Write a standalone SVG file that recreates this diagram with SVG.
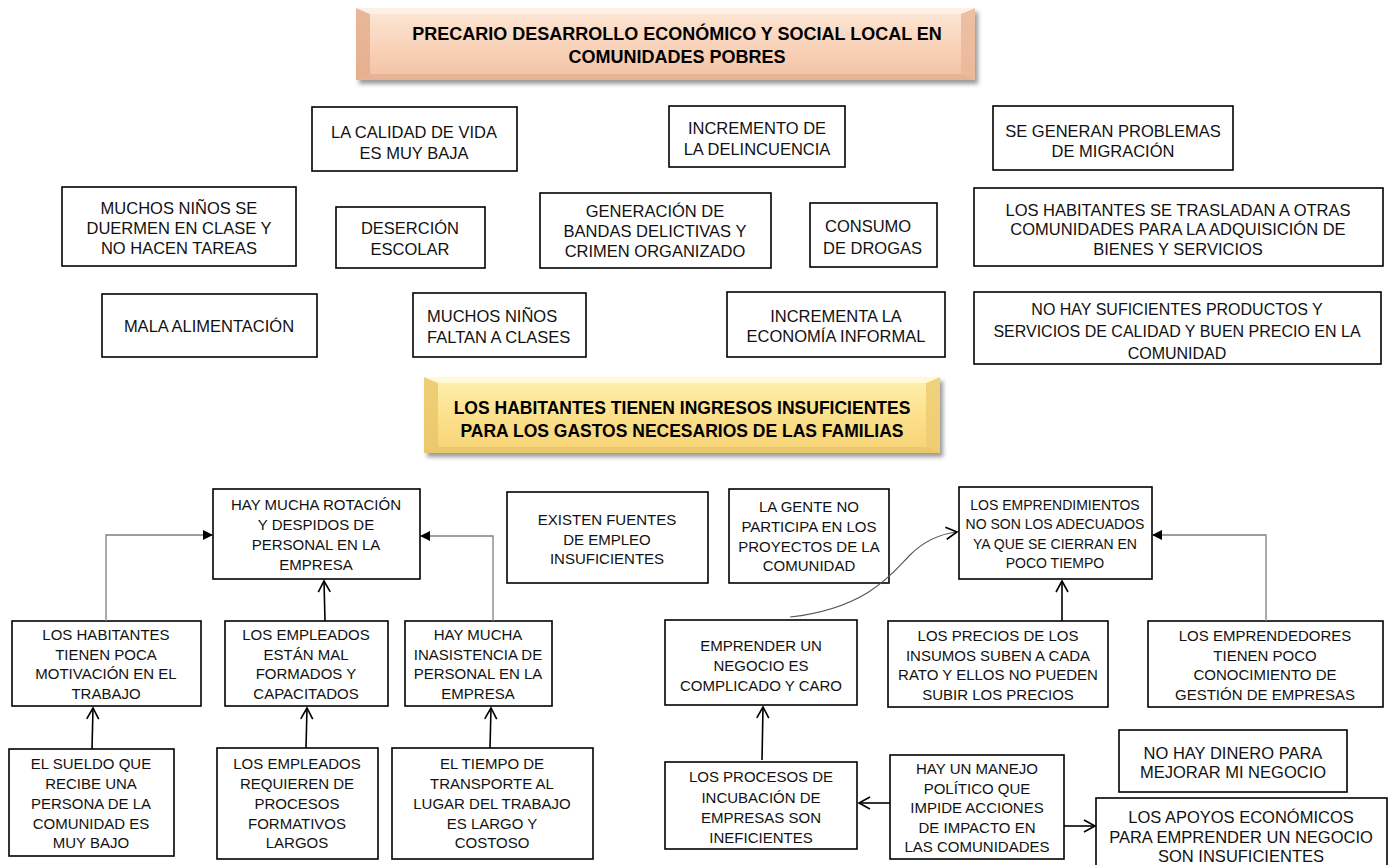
<svg xmlns="http://www.w3.org/2000/svg" width="1390" height="865" viewBox="0 0 1390 865">
<defs>
<style>
.box{fill:#fff;stroke:#000;stroke-width:1.6}
.t{font-family:"Liberation Sans",Arial,sans-serif;font-size:15px;fill:#111;text-anchor:middle}
.u{font-family:"Liberation Sans",Arial,sans-serif;font-size:16.5px;fill:#111;text-anchor:middle}
.us{font-family:"Liberation Sans",Arial,sans-serif;font-size:16.5px;fill:#111;text-anchor:start}
.title{font-family:"Liberation Sans",Arial,sans-serif;font-weight:bold;fill:#000;text-anchor:middle}
.el{fill:none;stroke:#7f7f7f;stroke-width:1.3}
.ar{fill:none;stroke:#000;stroke-width:1.6}
</style>
<linearGradient id="gPeach" x1="0" y1="0" x2="0" y2="1">
<stop offset="0" stop-color="#fde8d8"/>
<stop offset="0.5" stop-color="#f9d4bb"/>
<stop offset="1" stop-color="#f3c2a2"/>
</linearGradient>
<linearGradient id="gYel" x1="0" y1="0" x2="0" y2="1">
<stop offset="0" stop-color="#fff1b0"/>
<stop offset="0.5" stop-color="#fce18c"/>
<stop offset="1" stop-color="#f6d275"/>
</linearGradient>
<filter id="sh" x="-5%" y="-10%" width="110%" height="130%">
<feGaussianBlur stdDeviation="2"/>
</filter>
<marker id="tri" markerWidth="10" markerHeight="10" refX="9" refY="5" orient="auto" markerUnits="userSpaceOnUse">
<path d="M0,0 L10,5 L0,10 Z" fill="#000"/>
</marker>
<marker id="vee" markerWidth="14" markerHeight="14" refX="12" refY="7" orient="auto" markerUnits="userSpaceOnUse">
<path d="M1,1 L12,7 L1,13" fill="none" stroke="#000" stroke-width="1.6"/>
</marker>
</defs>

<g id="title1">
<rect x="359" y="12" width="619" height="72" fill="#9a9a9a" filter="url(#sh)"/>
<rect x="356" y="8" width="619" height="72" fill="url(#gPeach)"/>
<polygon points="356,8 370,14 370,74 356,80" fill="#e2ab8a" opacity="0.8"/>
<polygon points="975,8 961,14 961,74 975,80" fill="#e8b797" opacity="0.8"/>
<polygon points="356,8 975,8 961,14 370,14" fill="#fff3ea" opacity="0.8"/>
<polygon points="356,80 975,80 961,74 370,74" fill="#e0ad8d" opacity="0.7"/>
<text class="title" x="677" y="40" style="font-size:18px">PRECARIO DESARROLLO ECONÓMICO Y SOCIAL LOCAL EN</text>
<text class="title" x="677" y="63" style="font-size:18px">COMUNIDADES POBRES</text>
</g>

<g id="n_calidad"><rect class="box" x="312" y="107" width="205" height="64"/>
<text class="u" x="414" y="138">LA CALIDAD DE VIDA</text><text class="u" x="414" y="159">ES MUY  BAJA</text></g>

<g id="n_delincuencia"><rect class="box" x="669" y="106" width="176" height="61"/>
<text class="u" x="757" y="134">INCREMENTO DE</text><text class="u" x="757" y="155">LA DELINCUENCIA</text></g>

<g id="n_migracion"><rect class="box" x="993" y="106" width="240" height="64"/>
<text class="u" x="1113" y="137">SE GENERAN PROBLEMAS</text><text class="u" x="1113" y="157">DE MIGRACIÓN</text></g>

<g id="n_duermen"><rect class="box" x="62" y="187" width="234" height="79"/>
<text class="u" x="179" y="214">MUCHOS NIÑOS SE</text><text class="u" x="179" y="234">DUERMEN EN CLASE Y</text><text class="u" x="179" y="254">NO HACEN TAREAS</text></g>

<g id="n_desercion"><rect class="box" x="336" y="207" width="149" height="61"/>
<text class="u" x="410" y="234">DESERCIÓN</text><text class="u" x="410" y="255">ESCOLAR</text></g>

<g id="n_bandas"><rect class="box" x="540" y="193" width="231" height="75"/>
<text class="u" x="655" y="217">GENERACIÓN DE</text><text class="u" x="655" y="237">BANDAS DELICTIVAS Y</text><text class="u" x="655" y="257">CRIMEN ORGANIZADO</text></g>

<g id="n_drogas"><rect class="box" x="810" y="203" width="127" height="64"/>
<text class="us" x="825" y="232">CONSUMO</text><text class="us" x="823" y="254">DE DROGAS</text></g>

<g id="n_trasladan"><rect class="box" x="974" y="188" width="409" height="78"/>
<text class="u" x="1178" y="216">LOS HABITANTES SE TRASLADAN A OTRAS</text><text class="u" x="1178" y="235">COMUNIDADES PARA LA ADQUISICIÓN DE</text><text class="u" x="1178" y="255">BIENES Y SERVICIOS</text></g>

<g id="n_alimentacion"><rect class="box" x="102" y="294" width="215" height="63"/>
<text class="u" x="209" y="332">MALA ALIMENTACIÓN</text></g>

<g id="n_faltan"><rect class="box" x="413" y="293" width="173" height="64"/>
<text class="us" x="427" y="322">MUCHOS NIÑOS</text><text class="us" x="427" y="343">FALTAN A CLASES</text></g>

<g id="n_informal"><rect class="box" x="727" y="292" width="218" height="65"/>
<text class="u" x="836" y="322">INCREMENTA LA</text><text class="u" x="836" y="342">ECONOMÍA INFORMAL</text></g>

<g id="n_productos"><rect class="box" x="974" y="292" width="407" height="72"/>
<text class="u" x="1177" y="315" style="font-size:16px">NO HAY SUFICIENTES PRODUCTOS Y</text><text class="u" x="1177" y="337" style="font-size:16px">SERVICIOS DE CALIDAD Y BUEN PRECIO EN LA</text><text class="u" x="1177" y="359" style="font-size:16px">COMUNIDAD</text></g>

<g id="title2">
<rect x="427" y="381" width="516" height="76" fill="#9a9a9a" filter="url(#sh)"/>
<rect x="424" y="377" width="516" height="76" fill="url(#gYel)"/>
<polygon points="424,377 438,383 438,447 424,453" fill="#e9c66a" opacity="0.8"/>
<polygon points="940,377 926,383 926,447 940,453" fill="#eccb70" opacity="0.8"/>
<polygon points="424,377 940,377 926,383 438,383" fill="#fffbe0" opacity="0.8"/>
<polygon points="424,453 940,453 926,447 438,447" fill="#e6c267" opacity="0.7"/>
<text class="title" x="682" y="414" style="font-size:17.5px">LOS HABITANTES  TIENEN INGRESOS INSUFICIENTES</text>
<text class="title" x="682" y="437" style="font-size:17.5px">PARA LOS GASTOS NECESARIOS DE LAS FAMILIAS</text>
</g>

<g id="n_rotacion"><rect class="box" x="213" y="489" width="207" height="90"/>
<text class="t" x="316" y="510">HAY MUCHA ROTACIÓN</text><text class="t" x="316" y="530">Y DESPIDOS DE</text><text class="t" x="316" y="550">PERSONAL EN LA</text><text class="t" x="316" y="570">EMPRESA</text></g>

<g id="n_fuentes"><rect class="box" x="507" y="492" width="201" height="91"/>
<text class="t" x="607" y="525">EXISTEN FUENTES</text><text class="t" x="607" y="545">DE EMPLEO</text><text class="t" x="607" y="564">INSUFICIENTES</text></g>

<g id="n_gente"><rect class="box" x="729" y="489" width="160" height="94"/>
<text class="t" x="809" y="512">LA GENTE NO</text><text class="t" x="809" y="532">PARTICIPA EN LOS</text><text class="t" x="809" y="552">PROYECTOS DE LA</text><text class="t" x="809" y="571">COMUNIDAD</text></g>

<g id="n_emprendimientos"><rect class="box" x="959" y="487" width="193" height="92"/>
<text class="t" x="1055" y="510" style="font-size:14px">LOS EMPRENDIMIENTOS</text><text class="t" x="1055" y="529" style="font-size:14px">NO SON LOS ADECUADOS</text><text class="t" x="1055" y="549" style="font-size:14px">YA QUE SE CIERRAN EN</text><text class="t" x="1055" y="568" style="font-size:14px">POCO TIEMPO</text></g>

<g id="n_motivacion"><rect class="box" x="12" y="621" width="189" height="85"/>
<text class="t" x="106" y="640">LOS HABITANTES</text><text class="t" x="106" y="660">TIENEN POCA</text><text class="t" x="106" y="679">MOTIVACIÓN EN EL</text><text class="t" x="106" y="699">TRABAJO</text></g>

<g id="n_malformados"><rect class="box" x="225" y="621" width="163" height="85"/>
<text class="t" x="306" y="640">LOS EMPLEADOS</text><text class="t" x="306" y="660">ESTÁN MAL</text><text class="t" x="306" y="679">FORMADOS Y</text><text class="t" x="306" y="699">CAPACITADOS</text></g>

<g id="n_inasistencia"><rect class="box" x="405" y="621" width="147" height="85"/>
<text class="t" x="478" y="640">HAY MUCHA</text><text class="t" x="478" y="660">INASISTENCIA DE</text><text class="t" x="478" y="679">PERSONAL EN LA</text><text class="t" x="478" y="699">EMPRESA</text></g>

<g id="n_emprender"><rect class="box" x="665" y="620" width="192" height="85"/>
<text class="t" x="761" y="651">EMPRENDER UN</text><text class="t" x="761" y="671">NEGOCIO ES</text><text class="t" x="761" y="691">COMPLICADO Y CARO</text></g>

<g id="n_precios"><rect class="box" x="888" y="621" width="220" height="86"/>
<text class="t" x="998" y="641">LOS PRECIOS DE LOS</text><text class="t" x="998" y="661">INSUMOS SUBEN A CADA</text><text class="t" x="998" y="680">RATO Y ELLOS NO PUEDEN</text><text class="t" x="998" y="700">SUBIR LOS PRECIOS</text></g>

<g id="n_emprendedores"><rect class="box" x="1148" y="621" width="235" height="86"/>
<text class="t" x="1265" y="641">LOS EMPRENDEDORES</text><text class="t" x="1265" y="661">TIENEN POCO</text><text class="t" x="1265" y="680">CONOCIMIENTO DE</text><text class="t" x="1265" y="700">GESTIÓN DE EMPRESAS</text></g>

<g id="n_sueldo"><rect class="box" x="9" y="749" width="165" height="107"/>
<text class="t" x="91" y="769">EL SUELDO QUE</text><text class="t" x="91" y="789">RECIBE UNA</text><text class="t" x="91" y="809">PERSONA DE LA</text><text class="t" x="91" y="829">COMUNIDAD ES</text><text class="t" x="91" y="848">MUY  BAJO</text></g>

<g id="n_formativos"><rect class="box" x="217" y="748" width="161" height="111"/>
<text class="t" x="297" y="769">LOS EMPLEADOS</text><text class="t" x="297" y="789">REQUIEREN DE</text><text class="t" x="297" y="809">PROCESOS</text><text class="t" x="297" y="829">FORMATIVOS</text><text class="t" x="297" y="848">LARGOS</text></g>

<g id="n_transporte"><rect class="box" x="392" y="748" width="201" height="111"/>
<text class="t" x="492" y="769">EL TIEMPO DE</text><text class="t" x="492" y="789">TRANSPORTE AL</text><text class="t" x="492" y="809">LUGAR DEL TRABAJO</text><text class="t" x="492" y="829">ES LARGO Y</text><text class="t" x="492" y="848">COSTOSO</text></g>

<g id="n_dinero"><rect class="box" x="1119" y="730" width="228" height="62"/>
<text class="u" x="1233" y="759">NO HAY DINERO PARA</text><text class="u" x="1233" y="778">MEJORAR MI NEGOCIO</text></g>

<g id="n_politico"><rect class="box" x="890" y="755" width="174" height="104"/>
<text class="t" x="977" y="774">HAY UN MANEJO</text><text class="t" x="977" y="794">POLÍTICO QUE</text><text class="t" x="977" y="813">IMPIDE ACCIONES</text><text class="t" x="977" y="833">DE IMPACTO EN</text><text class="t" x="977" y="852">LAS COMUNIDADES</text></g>

<g id="n_incubacion"><rect class="box" x="665" y="762" width="192" height="87"/>
<text class="t" x="761" y="782">LOS PROCESOS DE</text><text class="t" x="761" y="803">INCUBACIÓN DE</text><text class="t" x="761" y="823">EMPRESAS SON</text><text class="t" x="761" y="843">INEFICIENTES</text></g>

<g id="n_apoyos"><rect class="box" x="1096" y="798" width="291" height="70"/>
<text class="u" x="1241" y="823">LOS APOYOS ECONÓMICOS</text><text class="u" x="1241" y="843">PARA EMPRENDER UN  NEGOCIO</text><text class="u" x="1241" y="862">SON INSUFICIENTES</text></g>

<g id="connectors">
<path class="el" d="M106,621 V535 H212" marker-end="url(#tri)"/>
<path class="el" d="M493,621 V536 H421" marker-end="url(#tri)"/>
<path class="el" d="M1266,621 V535 H1153" marker-end="url(#tri)"/>
<path class="ar" d="M325,621 L324,581" marker-end="url(#vee)"/>
<path class="ar" d="M92,749 L93,708" marker-end="url(#vee)"/>
<path class="ar" d="M306,748 L307,708" marker-end="url(#vee)"/>
<path class="ar" d="M490,748 L491,708" marker-end="url(#vee)"/>
<path class="ar" d="M1062,621 L1062,581" marker-end="url(#vee)"/>
<path class="ar" d="M762,760 L763,707" marker-end="url(#vee)"/>
<path class="ar" d="M890,803 L859,803" marker-end="url(#vee)"/>
<path class="ar" d="M1064,826 L1095,826" marker-end="url(#vee)"/>
<path d="M790,617 C870,608 895,570 910,555 C925,540 940,534 957,532" fill="none" stroke="#555" stroke-width="1.1" marker-end="url(#vee)"/>
</g>
</svg>
